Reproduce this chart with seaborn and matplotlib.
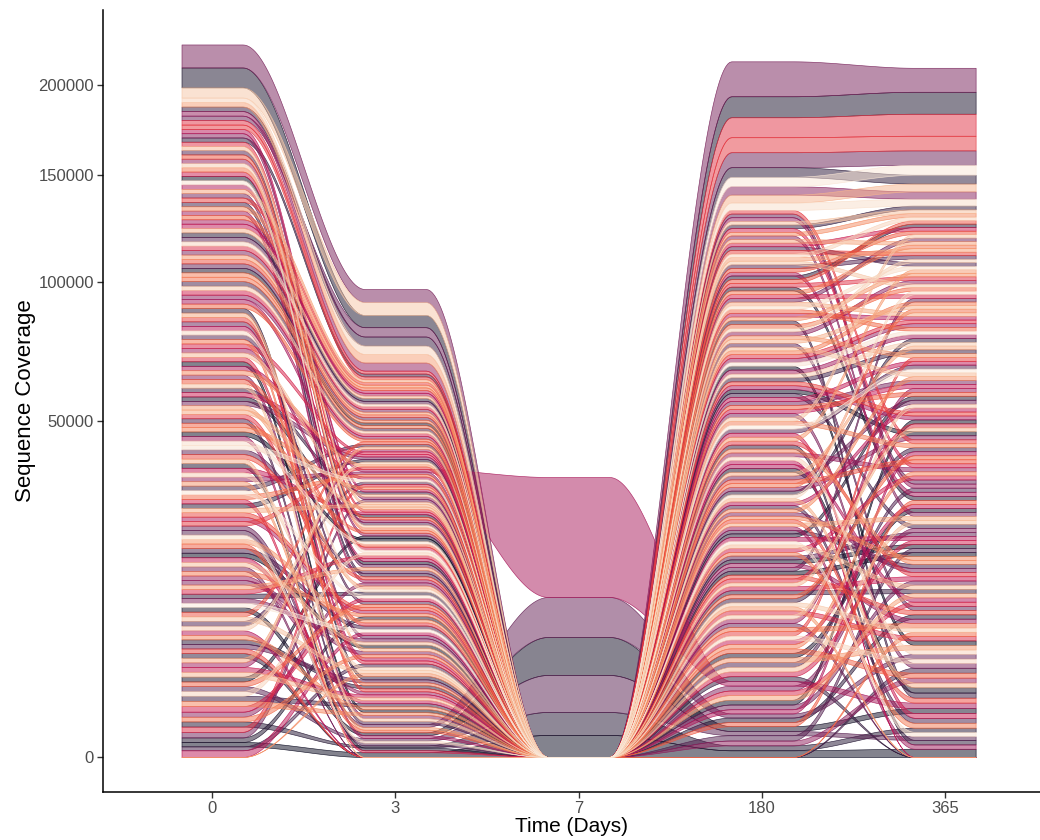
import numpy as np
import matplotlib
matplotlib.use("Agg")
import matplotlib.pyplot as plt
from matplotlib.colors import to_rgba
import seaborn as sns

# ---------------- data ----------------
days = ["0", "3", "7", "180", "365"]

day0 = [820, 1280, 50, 1560, 2210, 600, 330, 1930, 12000, 1180,
        1390, 70, 150, 2050, 980, 460, 410, 1760, 2310, 640,
        2600, 1420, 260, 2140, 1050, 1880, 30, 850, 1310, 560,
        2280, 1640, 890, 300, 2020, 1240, 450, 1930, 900, 1710,
        2550, 110, 2170, 1370, 760, 14300, 1990, 620, 710, 1480,
        2340, 190, 1820, 1100, 2260, 2590, 710, 1610, 2100, 380,
        1270, 2070, 1800, 940, 2190, 1530, 500, 2360, 1690, 20,
        2060, 1150, 810, 370, 1400, 2230, 240, 1850, 1010, 1620,
        670, 1580, 2000, 130, 2300, 2500, 1330, 920, 2450, 1720,
        2150, 440, 960, 1210, 590, 1940, 2270, 1460, 850, 1290,
        300, 1790, 2080, 1030, 1880, 160, 1620, 2240, 730, 1900,
        1280, 250, 480, 2120, 1500, 0, 870, 1080, 1960, 690,
        2600, 1350, 2180, 400, 1740, 1330, 960, 1190, 2050, 360,
        2290, 1590, 780, 560, 1430, 6000, 1870, 540, 2250, 1120,
        2620, 270, 2010, 1660, 880, 1260, 1250, 2200, 1040, 600]

day3 = [310, 540, 10, 120, 520, 60, 540, 800, 4700, 20,
        560, 380, 20, 860, 660, 190, 0, 230, 970, 450,
        3300, 590, 140, 500, 700, 790, 260, 370, 90, 610,
        550, 420, 30, 40, 850, 500, 200, 810, 80, 340,
        3500, 570, 510, 680, 0, 5300, 830, 330, 300, 110,
        580, 480, 760, 640, 540, 2800, 170, 550, 480, 690,
        50, 870, 640, 400, 520, 620, 0, 590, 270, 350,
        870, 560, 150, 160, 680, 530, 440, 770, 10, 680,
        520, 260, 840, 600, 560, 1000, 370, 640, 950, 180,
        900, 0, 400, 480, 700, 810, 550, 530, 60, 540,
        410, 750, 870, 620, 790, 280, 190, 540, 380, 800,
        590, 110, 130, 890, 640, 230, 370, 70, 820, 500,
        3000, 460, 910, 690, 300, 560, 560, 0, 860, 150,
        560, 580, 320, 240, 100, 5200, 780, 650, 540, 240,
        3100, 520, 840, 450, 30, 530, 610, 520, 440, 360]

day7 = [0, 0, 215, 0, 0, 3402, 0, 0, 0, 0,
        0, 0, 683, 0, 0, 0, 0, 0, 0, 0,
        0, 0, 0, 0, 0, 0, 0, 0, 0, 0,
        0, 0, 0, 2083, 0, 0, 0, 0, 4964, 0,
        0, 0, 0, 0, 0, 0, 0, 0, 0, 0,
        0, 0, 0, 0, 0, 0, 0, 0, 0, 0,
        0, 0, 23405, 0, 0, 0, 0, 0, 0, 0,
        0, 0, 0, 0, 0, 0, 0, 0, 0, 0,
        0, 0, 0, 0, 0, 0, 0, 0, 0, 0,
        0, 0, 0, 0, 0, 0, 0, 0, 0, 0,
        0, 0, 0, 0, 0, 0, 0, 0, 0, 0,
        0, 0, 0, 0, 0, 0, 0, 0, 0, 0,
        0, 0, 0, 0, 0, 0, 0, 0, 0, 0,
        0, 0, 0, 0, 0, 0, 0, 0, 0, 0,
        0, 0, 0, 0, 0, 0, 0, 0, 0, 0]

day180 = [1340, 640, 20, 1280, 230, 120, 650, 980, 12100, 410,
          1560, 720, 40, 1580, 150, 5000, 1090, 860, 1710, 330,
          590, 1450, 1320, 560, 0, 720, 1270, 790, 1630, 390,
          1600, 90, 1150, 90, 1380, 670, 640, 1770, 150, 480,
          7930, 1520, 940, 210, 1240, 21000, 1210, 760, 300, 1660,
          4200, 870, 1410, 60, 1360, 1050, 1740, 510, 640, 720,
          1330, 1590, 300, 1280, 980, 170, 1470, 710, 800, 1010,
          1250, 1210, 440, 600, 1140, 1630, 690, 350, 1700, 1520,
          260, 530, 610, 1360, 1570, 11150, 1100, 1780, 8140, 470,
          1620, 1290, 610, 740, 1570, 930, 1590, 120, 1230, 420,
          560, 1480, 1430, 0, 470, 910, 1540, 670, 1360, 1180,
          430, 740, 1060, 1690, 780, 1400, 1460, 540, 400, 1110,
          1610, 250, 1650, 730, 960, 1490, 820, 1390, 3900, 600,
          1360, 690, 370, 1730, 1180, 1600, 520, 540, 1320, 1420,
          1610, 1020, 450, 830, 1480, 3600, 700, 1350, 4800, 1170]

day365 = [460, 720, 30, 1150, 1180, 200, 740, 310, 12740, 890,
          920, 1260, 100, 1660, 540, 4500, 60, 1390, 1820, 0,
          630, 280, 1380, 1090, 380, 690, 830, 160, 1540, 970,
          1550, 720, 1330, 60, 560, 790, 1460, 1000, 400, 0,
          7630, 1610, 1240, 650, 1300, 14400, 380, 680, 810, 880,
          3600, 1140, 1510, 330, 1410, 1030, 980, 1290, 530, 40,
          1390, 950, 250, 1180, 600, 1080, 1420, 770, 1210, 0,
          1330, 1290, 890, 670, 180, 1640, 1020, 760, 1030, 1470,
          560, 460, 1160, 1410, 1520, 12330, 670, 1110, 7970, 1350,
          1560, 1200, 550, 250, 1660, 1050, 1630, 900, 1280, 360,
          1070, 1400, 1490, 470, 510, 1430, 1590, 140, 1450, 1100,
          1020, 710, 700, 1740, 1300, 1350, 1520, 0, 440, 1520,
          1580, 610, 1600, 850, 1380, 1420, 310, 1440, 4000, 1150,
          1300, 630, 830, 1790, 1610, 1500, 1230, 490, 1380, 1540,
          1670, 420, 390, 1480, 1530, 3400, 90, 1390, 5200, 1320]

y_ticks = [0, 50000, 100000, 150000, 200000]
y_tick_labels = ["0", "50000", "100000", "150000", "200000"]

# ---------------- style ----------------
sns.set_theme(style="ticks")
plt.rcParams['font.family'] = ['Liberation Sans', 'DejaVu Sans']

values = np.array([day0, day3, day7, day180, day365], dtype=float)
n_t, N = values.shape
palette = sns.color_palette("rocket", N)

# stack at every time point: largest on top
bottoms = np.zeros_like(values)
tops = np.zeros_like(values)
for j in range(n_t):
    order = np.lexsort((np.arange(N), values[j]))
    cum = 0.0
    for i in order:
        bottoms[j, i] = cum
        cum += values[j, i]
        tops[j, i] = cum

w = 1 / 3.0
npts = 60
t = np.linspace(0, 1, npts)
ease = t * t * (3 - 2 * t)


def path(sq):
    xs, ys = [], []
    for j in range(n_t):
        xs += [j - w / 2, j + w / 2]
        ys += [sq[j], sq[j]]
        if j < n_t - 1:
            x0, x1 = j + w / 2, j + 1 - w / 2
            xs += list(x0 + (x1 - x0) * t)
            ys += list(sq[j] + (sq[j + 1] - sq[j]) * ease)
    return np.array(xs), np.array(ys)


fig = plt.figure(figsize=(10.4, 8.4), dpi=100)
ax = fig.add_axes([103 / 1040, 48 / 840, (1040 - 103) / 1040, 782 / 840])

fwd = lambda v: np.sign(v) * np.sqrt(np.abs(v))
inv = lambda s: np.sign(s) * s ** 2
ax.set_yscale('function', functions=(fwd, inv))

for i in range(N):
    xs, sb = path(np.sqrt(bottoms[:, i]))
    _, st = path(np.sqrt(tops[:, i]))
    col = palette[i]
    ax.fill_between(xs, sb ** 2, st ** 2, facecolor=to_rgba(col, 0.5),
                    edgecolor=to_rgba(col, 0.9), linewidth=0.45)

ax.set_xlim(-0.595, 4.518)
ax.set_ylim(-(23.3 ** 2), 497.3 ** 2)
ax.set_xticks(range(n_t))
ax.set_xticklabels(days)
ax.set_yticks(y_ticks)
ax.set_yticklabels(y_tick_labels)
ax.minorticks_off()
ax.tick_params(axis='both', labelsize=12, labelcolor='#4d4d4d', color='#333333',
               length=4, width=1, pad=2.5)
ax.set_xlabel("Time (Days)", fontsize=15, color='black', labelpad=1)
ax.set_ylabel("Sequence Coverage", fontsize=16, color='black', labelpad=2)
sns.despine(ax=ax)
for s in ['left', 'bottom']:
    ax.spines[s].set_color('black')
    ax.spines[s].set_linewidth(1.1)
ax.grid(False)
ax.set_facecolor('white')
fig.patch.set_facecolor('white')

fig.savefig("out.png", dpi=100)
